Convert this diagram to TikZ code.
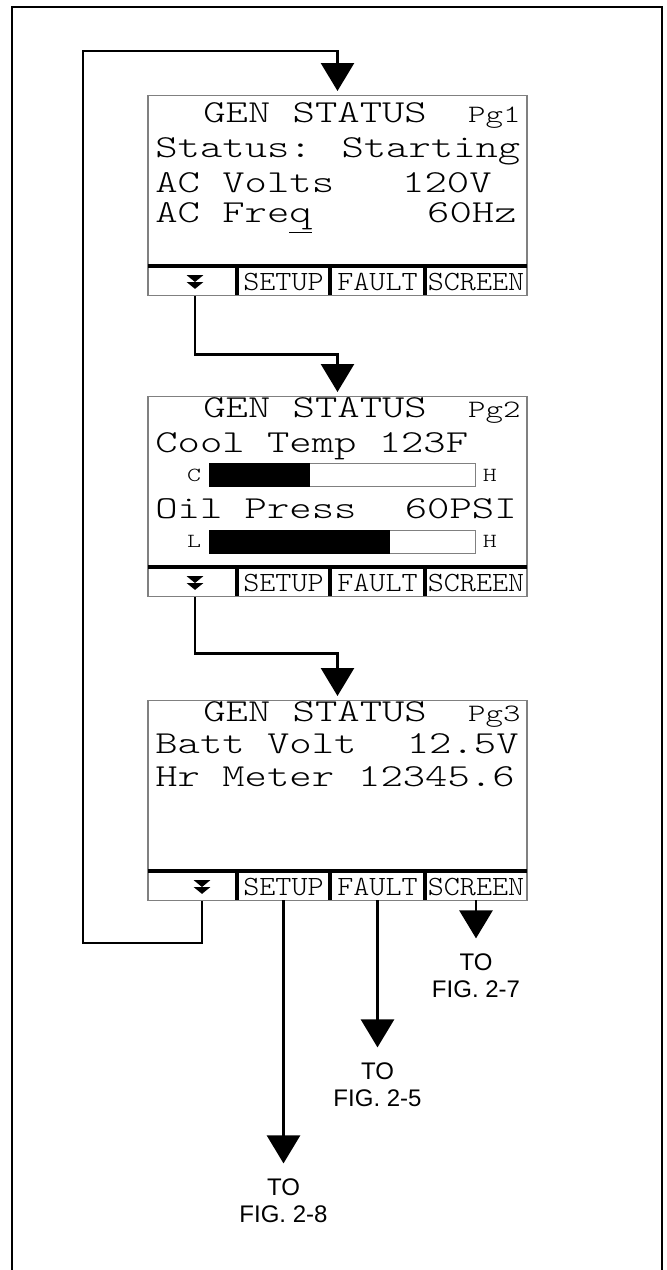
\documentclass[tikz,border=0pt]{standalone}
\usepackage{fontspec}
\newfontfamily\lcdfont[FakeStretch=1.33]{Latin Modern Mono Light}
\newfontfamily\keyfont[FakeStretch=1.1]{Latin Modern Mono Light}
\newfontfamily\figfont{Liberation Sans}
\usetikzlibrary{arrows.meta, positioning}
\tikzset{
  lcd/.style={
    draw=black!50,
    line width=0.6pt,
    minimum width=189.5pt,
    minimum height=100pt,
    inner sep=0pt,
  },
  lcdtxt/.style={font=\lcdfont\fontsize{16}{16}\selectfont, inner sep=0pt},
  pgtxt/.style={font=\lcdfont\fontsize{12.5}{12}\selectfont, inner sep=0pt},
  gaugetxt/.style={font=\lcdfont\fontsize{10}{10}\selectfont, inner sep=0pt},
  gauge/.style={
    draw=black!50,
    line width=0.5pt,
    minimum width=133pt,
    minimum height=11.5pt,
    inner sep=0pt,
  },
  keycell/.style={font=\keyfont\fontsize{13.9}{14}\selectfont, minimum height=13.5pt, inner sep=0pt},
  keyrule/.style={line width=2pt},
  dnkey/.style={minimum width=8pt, minimum height=6.5pt, inner sep=0pt},
  flow/.style={-{Triangle[width=16.5pt, length=14pt]}, line width=1.3pt},
  figlbl/.style={font=\figfont\fontsize{12}{13.5}\selectfont, align=center, inner sep=7.5pt},
  outerframe/.style={line width=1.3pt},
}

\begin{document}
\begin{tikzpicture}[x=0.5pt, y=-0.5pt]
\useasboundingbox (0,0) rectangle (666,1270);

% --- Outer frame (open at the bottom) ---
\draw[outerframe] (12,1280) -- (12,7) -- (662,7) -- (662,1280);

% --- Screens with key rows ---
\foreach \i/\t/\dx in {1/95/195, 2/396/195, 3/700/202}{
  \node[lcd, anchor=north] (scr\i) at (337.5,\t) {};
  \draw[keyrule] (148,\t+171) -- (527,\t+171);
  \foreach \x in {237,330,425} \draw[keyrule] (\x,\t+171) -- (\x,\t+200);
  \node[keycell, minimum width=46.5pt] (setup\i) at (283.5,\t+186.5) {SETUP};
  \node[keycell, minimum width=47.5pt] (fault\i) at (377.5,\t+186.5) {FAULT};
  \node[keycell, minimum width=51pt] (screen\i) at (476,\t+186.5) {SCREEN};
  \node[dnkey] (dn\i) at (\dx,\t+187) {};
  \fill (dn\i.north west) -- (dn\i.north east) -- (dn\i.center) -- cycle;
  \fill (dn\i.west) -- (dn\i.east) -- (dn\i.south) -- cycle;
}

% --- Page 1 ---
\node[lcdtxt, anchor=base west] (title1) at (203,122) {GEN STATUS};
\node[pgtxt, anchor=base east] (pg1) at (521,122) {Pg1};
\node[lcdtxt, anchor=base west] (stat1) at (155,157) {Status: Starting};
\node[lcdtxt, anchor=base west] (volt1) at (155,192) {AC Volts};
\node[lcdtxt, anchor=base east] (voltv1) at (492,192) {120V};
\node[lcdtxt, anchor=base west] (freq1) at (155,222) {AC Fre\underline{q}};
\node[lcdtxt, anchor=base east] (freqv1) at (517,222) {60Hz};

% --- Page 2 ---
\node[lcdtxt, anchor=base west] (title2) at (203,417) {GEN STATUS};
\node[pgtxt, anchor=base east] (pg2) at (521,417) {Pg2};
\node[lcdtxt, anchor=base west] (temp2) at (155,452) {Cool Temp 123F};
\node[gauge] (tempbar) at (342,475) {};
\fill (tempbar.south west) rectangle ([xshift=50.5pt]tempbar.north west);
\node[gaugetxt, left=3.5pt of tempbar] (tempc) {C};
\node[gaugetxt, right=3.5pt of tempbar] (temph) {H};
\node[lcdtxt, anchor=base west] (oil2) at (155,518) {Oil Press};
\node[lcdtxt, anchor=base east] (oilv2) at (517,518) {60PSI};
\node[gauge] (oilbar) at (342,541.5) {};
\fill (oilbar.south west) rectangle ([xshift=90.5pt]oilbar.north west);
\node[gaugetxt, left=3.5pt of oilbar] (oill) {L};
\node[gaugetxt, right=3.5pt of oilbar] (oilh) {H};

% --- Page 3 ---
\node[lcdtxt, anchor=base west] (title3) at (203,721) {GEN STATUS};
\node[pgtxt, anchor=base east] (pg3) at (521,721) {Pg3};
\node[lcdtxt, anchor=base west] (batt3) at (155,753) {Batt Volt};
\node[lcdtxt, anchor=base east] (battv3) at (519,753) {12.5V};
\node[lcdtxt, anchor=base west] (hour3) at (155,786) {Hr Meter};
\node[lcdtxt, anchor=base east] (hourv3) at (515,786) {12345.6};

% --- Page to page ---
\draw[flow, shorten >=2pt] (dn1 |- scr1.south) -- ++(0,58) -| (scr2.north);
\draw[flow, shorten >=2pt] (dn2 |- scr2.south) -- ++(0,56) -| (scr3.north);
\coordinate (backB) at (83,943);
\coordinate (backT) at (83,51);
\draw[flow, shorten >=2pt] (dn3 |- scr3.south) |- (backB) -- (backT) -| (scr1.north);

% --- Keys to other figures ---
\node[figlbl, below=131.5pt of setup3] (fig8) {TO\\FIG. 2-8};
\node[figlbl, below=73.5pt of fault3] (fig5) {TO\\FIG. 2-5};
\node[figlbl, below=19pt of screen3] (fig7) {TO\\FIG. 2-7};
\draw[flow] (setup3) -- (fig8);
\draw[flow] (fault3) -- (fig5);
\draw[flow] (screen3) -- (fig7);

\end{tikzpicture}
\end{document}
